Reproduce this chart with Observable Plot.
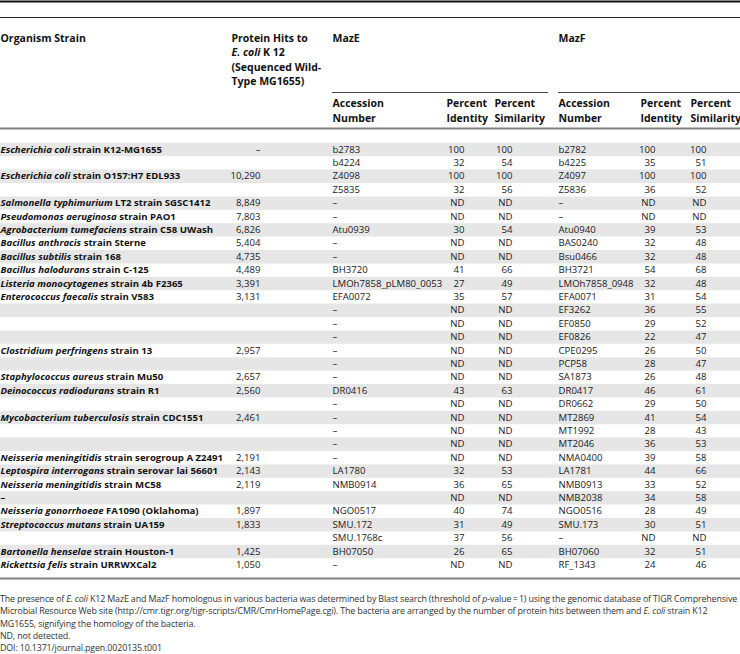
<!DOCTYPE html>
<html><head><meta charset="utf-8">
<script src="https://cdn.jsdelivr.net/npm/d3@7"></script>
<script src="https://cdn.jsdelivr.net/npm/@observablehq/plot@0.6"></script>
<style>
html,body{margin:0;padding:0;background:#fff;width:740px;height:654px;overflow:hidden;}
#caption{font-family:"Open Sans",sans-serif;color:#333;white-space:nowrap;}
#caption div{height:12.3px;line-height:12.3px;}
</style></head><body><div id="chart"></div><div id="caption"></div>
<script>
// ---------- data ----------
const orgSpecies = ["Escherichia coli","","Escherichia coli","","Salmonella typhimurium","Pseudomonas aeruginosa","Agrobacterium tumefaciens","Bacillus anthracis","Bacillus subtilis","Bacillus halodurans","Listeria monocytogenes","Enterococcus faecalis","","","","Clostridium perfringens","","Staphylococcus aureus","Deinococcus radiodurans","","Mycobacterium tuberculosis","","","Neisseria meningitidis","Leptospira interrogans","Neisseria meningitidis","","Neisseria gonorrhoeae","Streptococcus mutans","","Bartonella henselae","Rickettsia felis"];
const orgStrain = [" strain K12-MG1655",""," strain O157:H7 EDL933",""," LT2 strain SGSC1412"," strain PAO1"," strain C58 UWash"," strain Sterne"," strain 168"," strain C-125"," strain 4b F2365"," strain V583","","",""," strain 13",""," strain Mu50"," strain R1",""," strain CDC1551","",""," strain serogroup A Z2491"," strain serovar lai 56601"," strain MC58","–"," FA1090 (Oklahoma)"," strain UA159",""," strain Houston-1"," strain URRWXCal2"];
const proteinHits = ["–","","10,290","","8,849","7,803","6,826","5,404","4,735","4,489","3,391","3,131","","","","2,957","","2,657","2,560","","2,461","","","2,191","2,143","2,119","","1,897","1,833","","1,425","1,050"];
const mazEAccession = ["b2783","b4224","Z4098","Z5835","–","–","Atu0939","–","–","BH3720","LMOh7858_pLM80_0053","EFA0072","–","–","–","–","–","–","DR0416","–","–","–","–","–","LA1780","NMB0914","","NGO0517","SMU.172","SMU.1768c","BH07050","–"];
const mazEIdentity = [100,32,100,32,null,null,30,null,null,41,27,35,null,null,null,null,null,null,43,null,null,null,null,null,32,36,null,40,31,37,26,null];
const mazESimilarity = [100,54,100,56,null,null,54,null,null,66,49,57,null,null,null,null,null,null,63,null,null,null,null,null,53,65,null,74,49,56,65,null];
const mazFAccession = ["b2782","b4225","Z4097","Z5836","–","–","Atu0940","BAS0240","Bsu0466","BH3721","LMOh7858_0948","EFA0071","EF3262","EF0850","EF0826","CPE0295","PCP58","SA1873","DR0417","DR0662","MT2869","MT1992","MT2046","NMA0400","LA1781","NMB0913","NMB2038","NGO0516","SMU.173","–","BH07060","RF_1343"];
const mazFIdentity = [100,35,100,36,null,null,39,32,32,54,32,31,36,29,22,26,28,26,46,29,41,28,36,39,44,33,34,28,30,null,32,24];
const mazFSimilarity = [100,51,100,52,null,null,53,48,48,68,48,54,55,52,47,50,47,48,61,50,54,43,53,58,66,52,58,49,51,null,51,46];

const headerText   = ["Organism Strain","Protein Hits to"," K 12","(Sequenced Wild-","Type MG1655)","MazE","MazF","Accession","Number","Percent","Identity","Percent","Similarity","Accession","Number","Percent","Identity","Percent","Similarity"];
const headerItalic = ["","","E. coli","","","","","","","","","","","","","","","",""];
const headerCol    = ["org","hits","hits","hits","hits","mazE","mazF","eAcc","eAcc","eId","eId","eSim","eSim","fAcc","fAcc","fId","fId","fSim","fSim"];
const headerLine   = [0,0,1,2,3,0,0,4.5,5.5,4.5,5.5,4.5,5.5,4.5,5.5,4.5,5.5,4.5,5.5];

// ---------- layout ----------
const FONT = '"Open Sans", sans-serif';
const W = 740, H = 587;
const rowH = 13.4, row0 = 149;               // pixel centre of first body row
const toRow = px => (px - row0) / rowH;       // layout helper (rules/header in row units)
const hdrX = {org:0,hits:231,mazE:332,mazF:558,eAcc:332,eId:446,eSim:494,fAcc:558,fId:640,fSim:690};
const valX = {org:0,hits:260,eAcc:332,eId:464,eSim:512,fAcc:558,fId:655,fSim:706};
const hdrTop = toRow(38), hdrStep = 14.5 / rowH;
const FS = 9.6, OFS = 9.6, HFS = 10.5;

const rows = orgSpecies.map((s, i) => ({
  i, species: s, strain: orgStrain[i], hits: proteinHits[i],
  eAcc: mazEAccession[i], eId: mazEIdentity[i], eSim: mazESimilarity[i],
  fAcc: mazFAccession[i], fId: mazFIdentity[i], fSim: mazFSimilarity[i]
}));
const pct = v => v == null ? "ND" : String(v);
const headers = headerText.map((t, k) => ({text: t, italic: headerItalic[k], col: headerCol[k], line: headerLine[k]}));
const orgRows = rows.filter(d => d.species || d.strain);

const rules = [
  {y: toRow(1),   x1: 0,   x2: W,   stroke: "#111", w: 2},
  {y: toRow(17),  x1: 0,   x2: W,   stroke: "#222", w: 1.2},
  {y: toRow(92),  x1: 332, x2: 548, stroke: "#444", w: 1},
  {y: toRow(92),  x1: 558, x2: W,   stroke: "#444", w: 1},
  {y: toRow(128), x1: 0,   x2: W,   stroke: "#808080", w: 2},
  {y: toRow(578), x1: 0,   x2: W,   stroke: "#808080", w: 2}
];

const body = (key, anchor, fmt = d => d[key]) =>
  Plot.text(rows.filter(d => fmt(d) !== ""), {
    x: () => valX[key], y: "i", text: fmt, textAnchor: anchor,
    fontSize: FS, fill: "#1a1a1a", fontFamily: FONT
  });

const svg = Plot.plot({
  width: W, height: H, margin: 0,
  x: {domain: [0, W], range: [0, W], axis: null},
  y: {domain: [0, 31], range: [row0, row0 + 31 * rowH], axis: null},
  style: {fontFamily: FONT, background: "white"},
  marks: [
    Plot.ruleY(rows.filter(d => d.i % 2 === 0), {y: "i", stroke: "#e6e6e6", strokeWidth: rowH}),
    Plot.ruleY(rules, {y: "y", x1: "x1", x2: "x2", stroke: "stroke", strokeWidth: d => d.w}),
    Plot.text(headers, {
      x: d => hdrX[d.col], y: d => hdrTop + d.line * hdrStep,
      text: d => d.italic + d.text, textAnchor: "start",
      fontSize: HFS, fontWeight: "bold", fill: "#111", fontFamily: FONT,
      ariaDescription: "header"
    }),
    Plot.text(orgRows, {
      x: () => valX.org, y: "i", text: d => d.species + d.strain, textAnchor: "start",
      fontSize: OFS, fontWeight: "bold", fill: "#111", fontFamily: FONT,
      ariaDescription: "organism"
    }),
    body("hits", "end"),
    body("eAcc", "start"),
    body("eId", "end", d => pct(d.eId)),
    body("eSim", "end", d => pct(d.eSim)),
    body("fAcc", "start"),
    body("fId", "end", d => pct(d.fId)),
    body("fSim", "end", d => pct(d.fSim))
  ]
});

// mixed italic / roman inside a cell
function splitStyle(sel, data) {
  d3.select(svg).selectAll(sel).each(function(d, j) {
    const rec = data[typeof d === "number" ? d : j];
    if (!rec || !rec.italic) return;
    const t = d3.select(this); t.text(null);
    t.append("tspan").attr("font-style", "italic").text(rec.italic);
    t.append("tspan").text(rec.rest);
  });
}
splitStyle('g[aria-description="organism"] text', orgRows.map(d => ({italic: d.species, rest: d.strain})));
splitStyle('g[aria-description="header"] text', headers.map(d => ({italic: d.italic, rest: d.text})));

document.getElementById("chart").appendChild(svg);

// ---------- caption ----------
const capLines = [
  'The presence of <i>E. coli</i> K12 MazE and MazF homologous in various bacteria was determined by Blast search (threshold of <i>p</i>-value\u2009=\u20091) using the genomic database of TIGR Comprehensive',
  'Microbial Resource Web site (http://cmr.tigr.org/tigr-scripts/CMR/CmrHomePage.cgi). The bacteria are arranged by the number of protein hits between them and <i>E. coli</i> strain K12',
  'MG1655, signifying the homology of the bacteria.',
  'ND, not detected.',
  'DOI: 10.1371/journal.pgen.0020135.t001'
];
const cap = document.getElementById("caption");
cap.style.paddingTop = "6px";
cap.innerHTML = capLines.map(l => `<div>${l}</div>`).join("");
const CFS = 8.9;
cap.style.fontSize = CFS + "px";
// fit the first caption line to the table width
const probe = document.createElement("span");
probe.innerHTML = capLines[0];
probe.style.whiteSpace = "nowrap";
cap.firstChild.innerHTML = ""; cap.firstChild.appendChild(probe);
const w1 = probe.getBoundingClientRect().width;
const nChars = probe.textContent.length;
cap.style.letterSpacing = ((737 - w1) / nChars).toFixed(3) + "px";
cap.firstChild.innerHTML = capLines[0];
</script></body></html>
